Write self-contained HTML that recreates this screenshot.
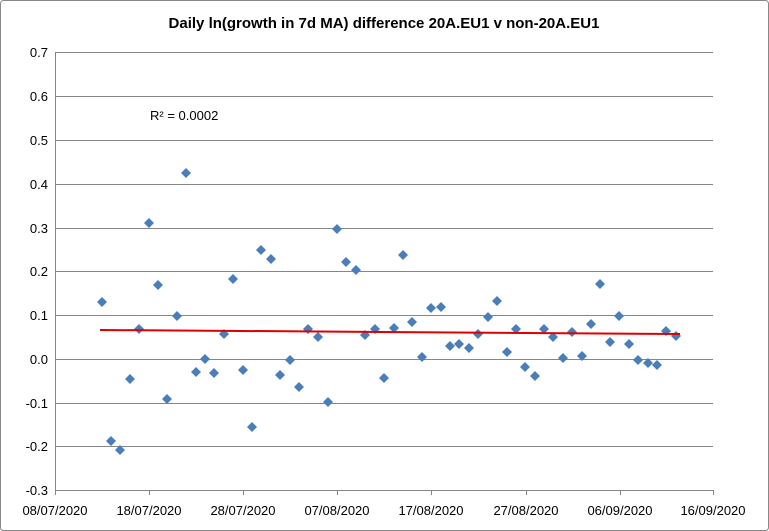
<!DOCTYPE html>
<html><head><meta charset="utf-8"><style>
body{margin:0;background:#fff}
svg{display:block;font-family:"Liberation Sans",sans-serif}
</style></head><body>
<svg width="769" height="531" viewBox="0 0 769 531">
<defs><polygon id="d" points="0,-5 5,0 0,5 -5,0" fill="#4a7ebb"/></defs>
<rect x="0.5" y="0.5" width="768" height="530" fill="#fff" stroke="#888" rx="3"/>
<text x="384" y="28" text-anchor="middle" font-size="15" font-weight="bold" fill="#000">Daily ln(growth in 7d MA) difference 20A.EU1 v non-20A.EU1</text>
<g stroke="#868686" stroke-width="1">
<line x1="55" x2="713" y1="52.5" y2="52.5"/>
<line x1="55" x2="713" y1="96.5" y2="96.5"/>
<line x1="55" x2="713" y1="140.5" y2="140.5"/>
<line x1="55" x2="713" y1="184.5" y2="184.5"/>
<line x1="55" x2="713" y1="228.5" y2="228.5"/>
<line x1="55" x2="713" y1="271.5" y2="271.5"/>
<line x1="55" x2="713" y1="315.5" y2="315.5"/>
<line x1="55" x2="713" y1="359.5" y2="359.5"/>
<line x1="55" x2="713" y1="403.5" y2="403.5"/>
<line x1="55" x2="713" y1="446.5" y2="446.5"/>
<line x1="55" x2="713" y1="490.5" y2="490.5"/>
<line x1="55.5" x2="55.5" y1="52" y2="495"/>
<line x1="149.5" x2="149.5" y1="490" y2="495"/>
<line x1="243.5" x2="243.5" y1="490" y2="495"/>
<line x1="337.5" x2="337.5" y1="490" y2="495"/>
<line x1="431.5" x2="431.5" y1="490" y2="495"/>
<line x1="526.5" x2="526.5" y1="490" y2="495"/>
<line x1="620.5" x2="620.5" y1="490" y2="495"/>
<line x1="713.5" x2="713.5" y1="490" y2="495"/>
</g>
<g font-size="13" fill="#000" text-anchor="end">
<text x="48" y="57">0.7</text><text x="48" y="101">0.6</text><text x="48" y="145">0.5</text>
<text x="48" y="189">0.4</text><text x="48" y="233">0.3</text><text x="48" y="276">0.2</text>
<text x="48" y="320">0.1</text><text x="48" y="364">0.0</text><text x="48" y="408">-0.1</text>
<text x="48" y="451">-0.2</text><text x="48" y="495">-0.3</text>
</g>
<g font-size="13" fill="#000" text-anchor="middle">
<text x="55" y="515">08/07/2020</text><text x="149" y="515">18/07/2020</text><text x="243" y="515">28/07/2020</text>
<text x="337" y="515">07/08/2020</text><text x="431" y="515">17/08/2020</text><text x="526" y="515">27/08/2020</text>
<text x="620" y="515">06/09/2020</text><text x="713" y="515">16/09/2020</text>
</g>
<text x="150" y="120" font-size="13">R² = 0.0002</text>
<g>
<use href="#d" x="102" y="302"/><use href="#d" x="111" y="441"/><use href="#d" x="120" y="450"/><use href="#d" x="130" y="379"/>
<use href="#d" x="139" y="329"/><use href="#d" x="149" y="223"/><use href="#d" x="158" y="285"/><use href="#d" x="167" y="399"/>
<use href="#d" x="177" y="316"/><use href="#d" x="186" y="173"/><use href="#d" x="196" y="372"/><use href="#d" x="205" y="359"/>
<use href="#d" x="214" y="373"/><use href="#d" x="224" y="334"/><use href="#d" x="233" y="279"/><use href="#d" x="243" y="370"/>
<use href="#d" x="252" y="427"/><use href="#d" x="261" y="250"/><use href="#d" x="271" y="259"/><use href="#d" x="280" y="375"/>
<use href="#d" x="290" y="360"/><use href="#d" x="299" y="387"/><use href="#d" x="308" y="329"/><use href="#d" x="318" y="337"/>
<use href="#d" x="328" y="402"/><use href="#d" x="337" y="229"/><use href="#d" x="346" y="262"/><use href="#d" x="356" y="270"/>
<use href="#d" x="365" y="335"/><use href="#d" x="375" y="329"/><use href="#d" x="384" y="378"/><use href="#d" x="394" y="328"/>
<use href="#d" x="403" y="255"/><use href="#d" x="412" y="322"/><use href="#d" x="422" y="357"/><use href="#d" x="431" y="308"/>
<use href="#d" x="441" y="307"/><use href="#d" x="450" y="346"/><use href="#d" x="459" y="344"/><use href="#d" x="469" y="348"/>
<use href="#d" x="478" y="334"/><use href="#d" x="488" y="317"/><use href="#d" x="497" y="301"/><use href="#d" x="507" y="352"/>
<use href="#d" x="516" y="329"/><use href="#d" x="525" y="367"/><use href="#d" x="535" y="376"/><use href="#d" x="544" y="329"/>
<use href="#d" x="553" y="337"/><use href="#d" x="563" y="358"/><use href="#d" x="572" y="332"/><use href="#d" x="582" y="356"/>
<use href="#d" x="591" y="324"/><use href="#d" x="600" y="284"/><use href="#d" x="610" y="342"/><use href="#d" x="619" y="316"/>
<use href="#d" x="629" y="344"/><use href="#d" x="638" y="360"/><use href="#d" x="648" y="363"/><use href="#d" x="657" y="365"/>
<use href="#d" x="666" y="331"/><use href="#d" x="676" y="336"/>
</g>
<line x1="100" y1="330" x2="680" y2="334" stroke="#e00000" stroke-width="2"/>
</svg>
</body></html>
